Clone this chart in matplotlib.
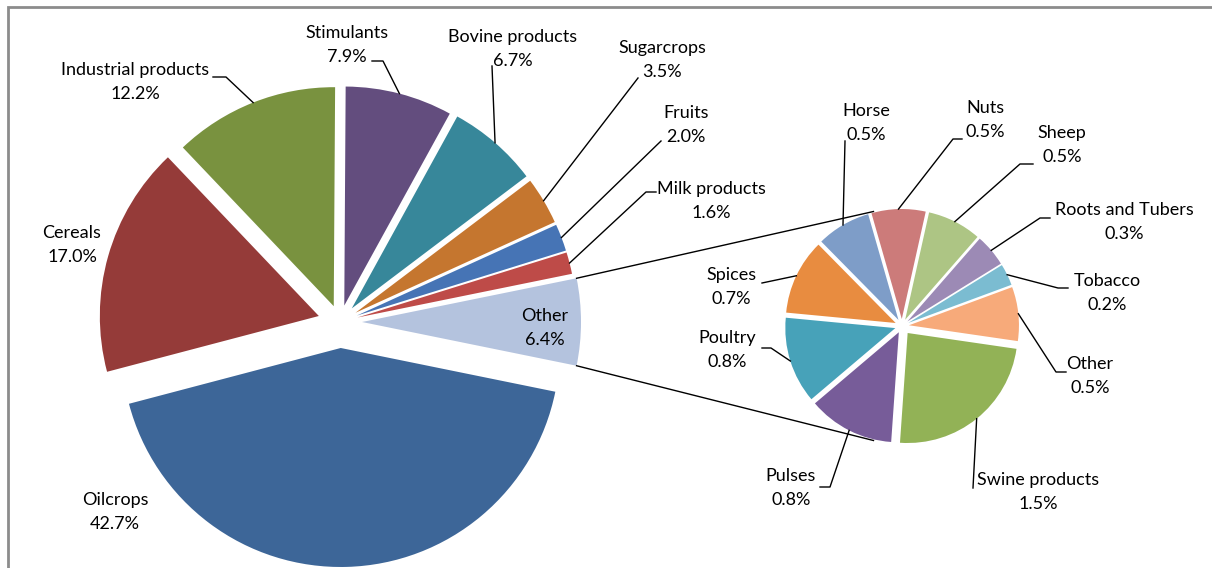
import matplotlib
matplotlib.use('Agg')
import matplotlib.pyplot as plt
import numpy as np

W, H = 1212, 568

# main pie, counterclockwise starting with "Other" centred on the right
main_labels = ['Other', 'Milk products', 'Fruits', 'Sugarcrops', 'Bovine products',
               'Stimulants', 'Industrial products', 'Cereals', 'Oilcrops']
main_values = [6.4, 1.6, 2.0, 3.5, 6.7, 7.9, 12.2, 17.0, 42.7]
main_colors = ['#B4C3DE', '#BE4B48', '#4674B5', '#C5762F', '#37879A',
               '#634D7E', '#79923F', '#953B39', '#3D6698']

# breakdown of "Other"
sub_labels = ['Swine products', 'Other', 'Tobacco', 'Roots and Tubers', 'Sheep',
              'Nuts', 'Horse', 'Spices', 'Poultry', 'Pulses']
sub_values = [1.5, 0.5, 0.2, 0.3, 0.5, 0.5, 0.5, 0.7, 0.8, 0.8]
sub_colors = ['#92B256', '#F7AA7A', '#7BBCD1', '#9C8AB5', '#ADC584',
              '#CC7B7A', '#7E9DC8', '#E88C40', '#47A2B9', '#775C99']

plt.rcParams['font.family'] = ['Lato', 'DejaVu Sans']

fig = plt.figure(figsize=(W / 100, H / 100), dpi=100)
ax = fig.add_axes([0, 0, 1, 1])

R1, R2 = 219, 110
main_explode = [22, 18, 18, 18, 18, 17, 17, 22, 26]
sub_explode = [9, 7, 7, 7, 7, 7, 7, 7, 7, 7]

w1, _ = ax.pie(main_values, colors=main_colors, radius=R1, center=(340, H - 322),
               startangle=-main_values[0] / sum(main_values) * 180,
               counterclock=True, explode=main_explode,
               wedgeprops=dict(linewidth=0))
w2, _ = ax.pie(sub_values, colors=sub_colors, radius=R2, center=(902, H - 326),
               startangle=266, counterclock=True, explode=sub_explode,
               wedgeprops=dict(linewidth=0))


def arc_point(w, ang=None):
    if ang is None:
        ang = (w.theta1 + w.theta2) / 2
    a = np.radians(ang)
    return w.center[0] + w.r * np.cos(a), w.center[1] + w.r * np.sin(a)


# label centre, then leader path (image coords) ending on the slice
main_pos = {
    'Other': ((545, 328), None),
    'Milk products': ((711, 201), [(656, 192), (646, 192)]),
    'Fruits': ((686, 125), [(661, 141)]),
    'Sugarcrops': ((662, 60), [(638, 78)]),
    'Bovine products': ((513, 49), [(492, 66)]),
    'Stimulants': ((347, 45), [(372, 61), (383, 61)]),
    'Industrial products': ((135, 82), [(213, 77), (226, 77)]),
    'Cereals': ((72, 245), None),
    'Oilcrops': ((115, 512), None),
}
sub_pos = {
    'Swine products': ((1038, 492), [(973, 488)]),
    'Other': ((1090, 376), [(1066, 372), (1056, 372)]),
    'Tobacco': ((1107, 293), [(1068, 288), (1058, 288)]),
    'Roots and Tubers': ((1124, 222), [(1050, 218), (1040, 218)]),
    'Sheep': ((1062, 145), [(1033, 164), (1020, 164)]),
    'Nuts': ((985, 120), [(962, 139), (953, 139)]),
    'Horse': ((866, 123), [(845, 141)]),
    'Spices': ((731, 287), [(762, 283)]),
    'Poultry': ((727, 350), [(762, 348), (771, 348)]),
    'Pulses': ((791, 488), [(820, 487), (830, 487)]),
}

for wedges, labels, values, pos in [(w1, main_labels, main_values, main_pos),
                                    (w2, sub_labels, sub_values, sub_pos)]:
    for w, lab, v in zip(wedges, labels, values):
        (tx, ty), path = pos[lab]
        ax.text(tx, H - ty, f'{lab}\n{v:.1f}%', ha='center', va='center',
                fontsize=13, linespacing=1.65, color='#000000')
        if path:
            xs = [p[0] for p in path]
            ys = [H - p[1] for p in path]
            ex, ey = arc_point(w)
            ax.plot(xs + [ex], ys + [ey], color='black', lw=1.0)

# connector lines from "Other" slice to the secondary pie
other = w1[0]
sc = (902, H - 326)
for a_main, a_sub in [(other.theta2, 104), (other.theta1, 256)]:
    x0, y0 = arc_point(other, a_main)
    x1 = sc[0] + (R2 + 8) * np.cos(np.radians(a_sub))
    y1 = sc[1] + (R2 + 8) * np.sin(np.radians(a_sub))
    ax.plot([x0, x1], [y0, y1], color='black', lw=1.0)

# chart border
ax.plot([8, 8, W], [0, H - 7, H - 7], color='#8C8C8C', lw=2.0, solid_joinstyle='miter')

ax.set_xlim(0, W)
ax.set_ylim(0, H)
ax.set_aspect('equal')
ax.axis('off')

fig.savefig('out.png', dpi=100)
